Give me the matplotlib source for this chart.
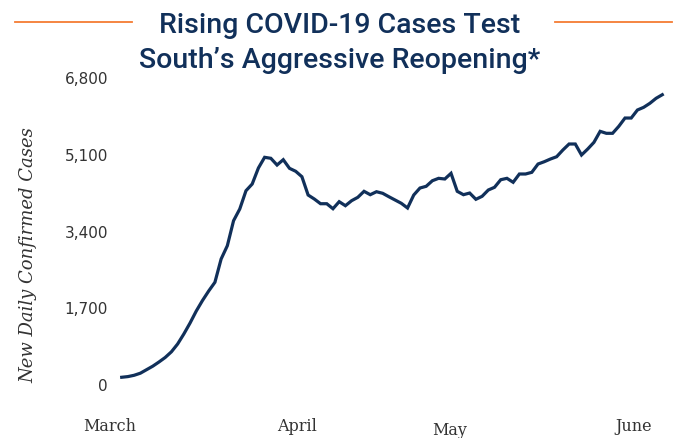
import numpy as np
import matplotlib
matplotlib.use("Agg")
import matplotlib.pyplot as plt
from matplotlib.lines import Line2D

# 7-day average of new daily confirmed cases, one value per day
cases = [
    149, 164, 193, 239, 317, 395, 488, 588, 714, 887,
    1109, 1352, 1618, 1851, 2062, 2255, 2771, 3066, 3620, 3880,
    4285, 4434, 4789, 5026, 5004, 4855, 4973, 4782, 4716, 4596,
    4190, 4101, 3997, 3997, 3886, 4042, 3953, 4064, 4139, 4272,
    4197, 4263, 4228, 4152, 4079, 4006, 3902, 4190, 4345, 4383,
    4507, 4560, 4545, 4671, 4272, 4197, 4234, 4095, 4161, 4301,
    4361, 4529, 4560, 4472, 4656, 4656, 4693, 4877, 4928, 4988,
    5039, 5188, 5321, 5321, 5077, 5210, 5358, 5602, 5558, 5558,
    5713, 5897, 5897, 6075, 6134, 6223, 6334, 6414,
]
days = np.arange(len(cases))

y_ticks = [0, 1700, 3400, 5100, 6800]
months = ["March", "April", "May", "June"]
month_pos = [-1.9, 28.2, 52.7, 82.4]

navy = "#11305a"
orange = "#f47c33"
grey = "#333333"

fig = plt.figure(figsize=(6.79, 4.39), dpi=100)
ax = fig.add_axes([115 / 679, 44 / 439, 553 / 679, 325 / 439])

ax.plot(days, cases, color=navy, lw=2.3, solid_joinstyle="miter")

ax.set_xlim(-1.08, 87.92)
ax.set_ylim(-222, 6984)
ax.set_xticks([])
ax.set_yticks(y_ticks)
ax.set_yticklabels([f"{v:,}" for v in y_ticks], family="DejaVu Sans", fontsize=11, color=grey)
ax.tick_params(axis="y", length=0, pad=5)
for s in ax.spines.values():
    s.set_visible(False)

# month names under the line, May sits a little lower
for m, x in zip(months, month_pos):
    dy = -0.108 if m == "May" else -0.098
    ax.text(x, dy, m, transform=ax.get_xaxis_transform(), ha="center", va="center",
            family="DejaVu Serif", fontsize=11.5, color=grey)

fig.text(28 / 679, 1 - 255 / 439, "New Daily Confirmed Cases", rotation=90,
         ha="center", va="center", family="DejaVu Serif", style="italic",
         fontsize=13, color=grey)

# two-line title with orange rules either side of the first line
fig.text(0.5, 1 - 33 / 439, "Rising COVID-19 Cases Test", ha="center", va="baseline",
         family="Roboto", weight="medium", fontsize=20.5, color=navy)
fig.text(0.5, 1 - 68 / 439, "South\u2019s Aggressive Reopening*", ha="center", va="baseline",
         family="Roboto", weight="medium", fontsize=20.5, color=navy)
for x0, x1 in [(15, 132), (555, 672)]:
    fig.add_artist(Line2D([x0 / 679, x1 / 679], [1 - 23 / 439] * 2, color=orange, lw=1.3))

fig.savefig("out.png", dpi=100)
